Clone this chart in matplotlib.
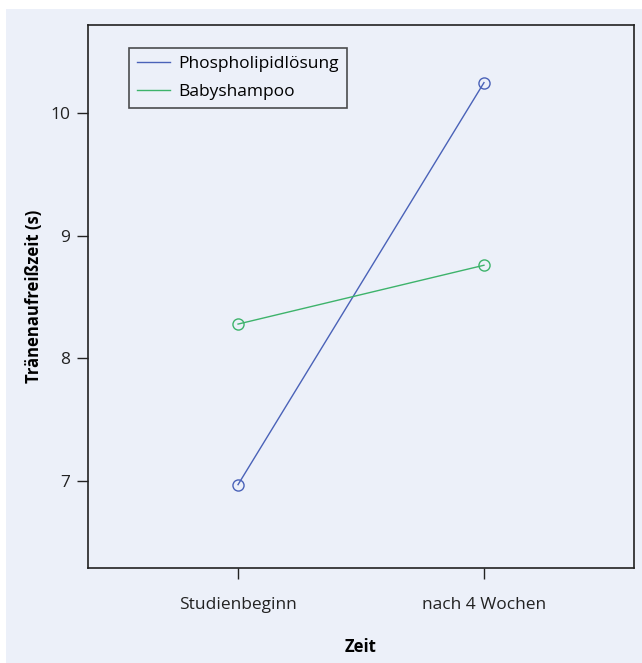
import matplotlib.pyplot as plt
from matplotlib.patches import Rectangle

# Daten
zeitpunkte = ['Studienbeginn', 'nach 4 Wochen']
phospholipid = [6.97, 10.25]
babyshampoo = [8.28, 8.76]
y_ticks = [7, 8, 9, 10]

plt.rcParams['font.family'] = ['Open Sans', 'DejaVu Sans']
bg = '#ECF0F9'
blau = '#4A62B8'
gruen = '#3DB36B'

fig = plt.figure(figsize=(6.42, 6.63), dpi=100)
fig.patches.append(Rectangle((6 / 642, 0), 1, 1 - 9 / 663, transform=fig.transFigure,
                             facecolor=bg, edgecolor='none', zorder=-1))
ax = fig.add_axes([88 / 642, 95 / 663, 546 / 642, 543 / 663])
ax.set_facecolor(bg)

x = [1, 2]
ax.plot(x, phospholipid, color=blau, lw=1, label='Phospholipidlösung')
ax.plot(x, babyshampoo, color=gruen, lw=1, label='Babyshampoo')
ax.plot(x, phospholipid, ls='none', marker='o', ms=8, mfc='none', mec=blau, mew=1)
ax.plot(x, babyshampoo, ls='none', marker='o', ms=8, mfc='none', mec=gruen, mew=1)

ax.set_xlim(0.39, 2.61)
ax.set_ylim(6.29, 10.72)
ax.set_xticks(x)
ax.set_xticklabels(zeitpunkte)
ax.set_yticks(y_ticks)
ax.tick_params(direction='out', length=8, width=1, labelsize=12.5, pad=13, colors='#222222')
ax.tick_params(axis='y', pad=5)
for s in ax.spines.values():
    s.set_linewidth(1.2)
    s.set_color('#222222')

ax.set_xlabel('Zeit', fontsize=12, fontweight='bold', labelpad=18)
ax.set_ylabel('Tränenaufreißzeit (s)', fontsize=12, fontweight='bold', labelpad=5)

leg = ax.legend(loc='upper left', bbox_to_anchor=(41 / 546, 1 - 23 / 543), fontsize=12.5,
                frameon=True, fancybox=False, handlelength=1.9, borderpad=0.45,
                labelspacing=0.7, handletextpad=0.5, borderaxespad=0)
leg.get_frame().set_edgecolor('#222222')
leg.get_frame().set_linewidth(1.2)
leg.get_frame().set_facecolor(bg)

fig.savefig('out.png', dpi=100)
